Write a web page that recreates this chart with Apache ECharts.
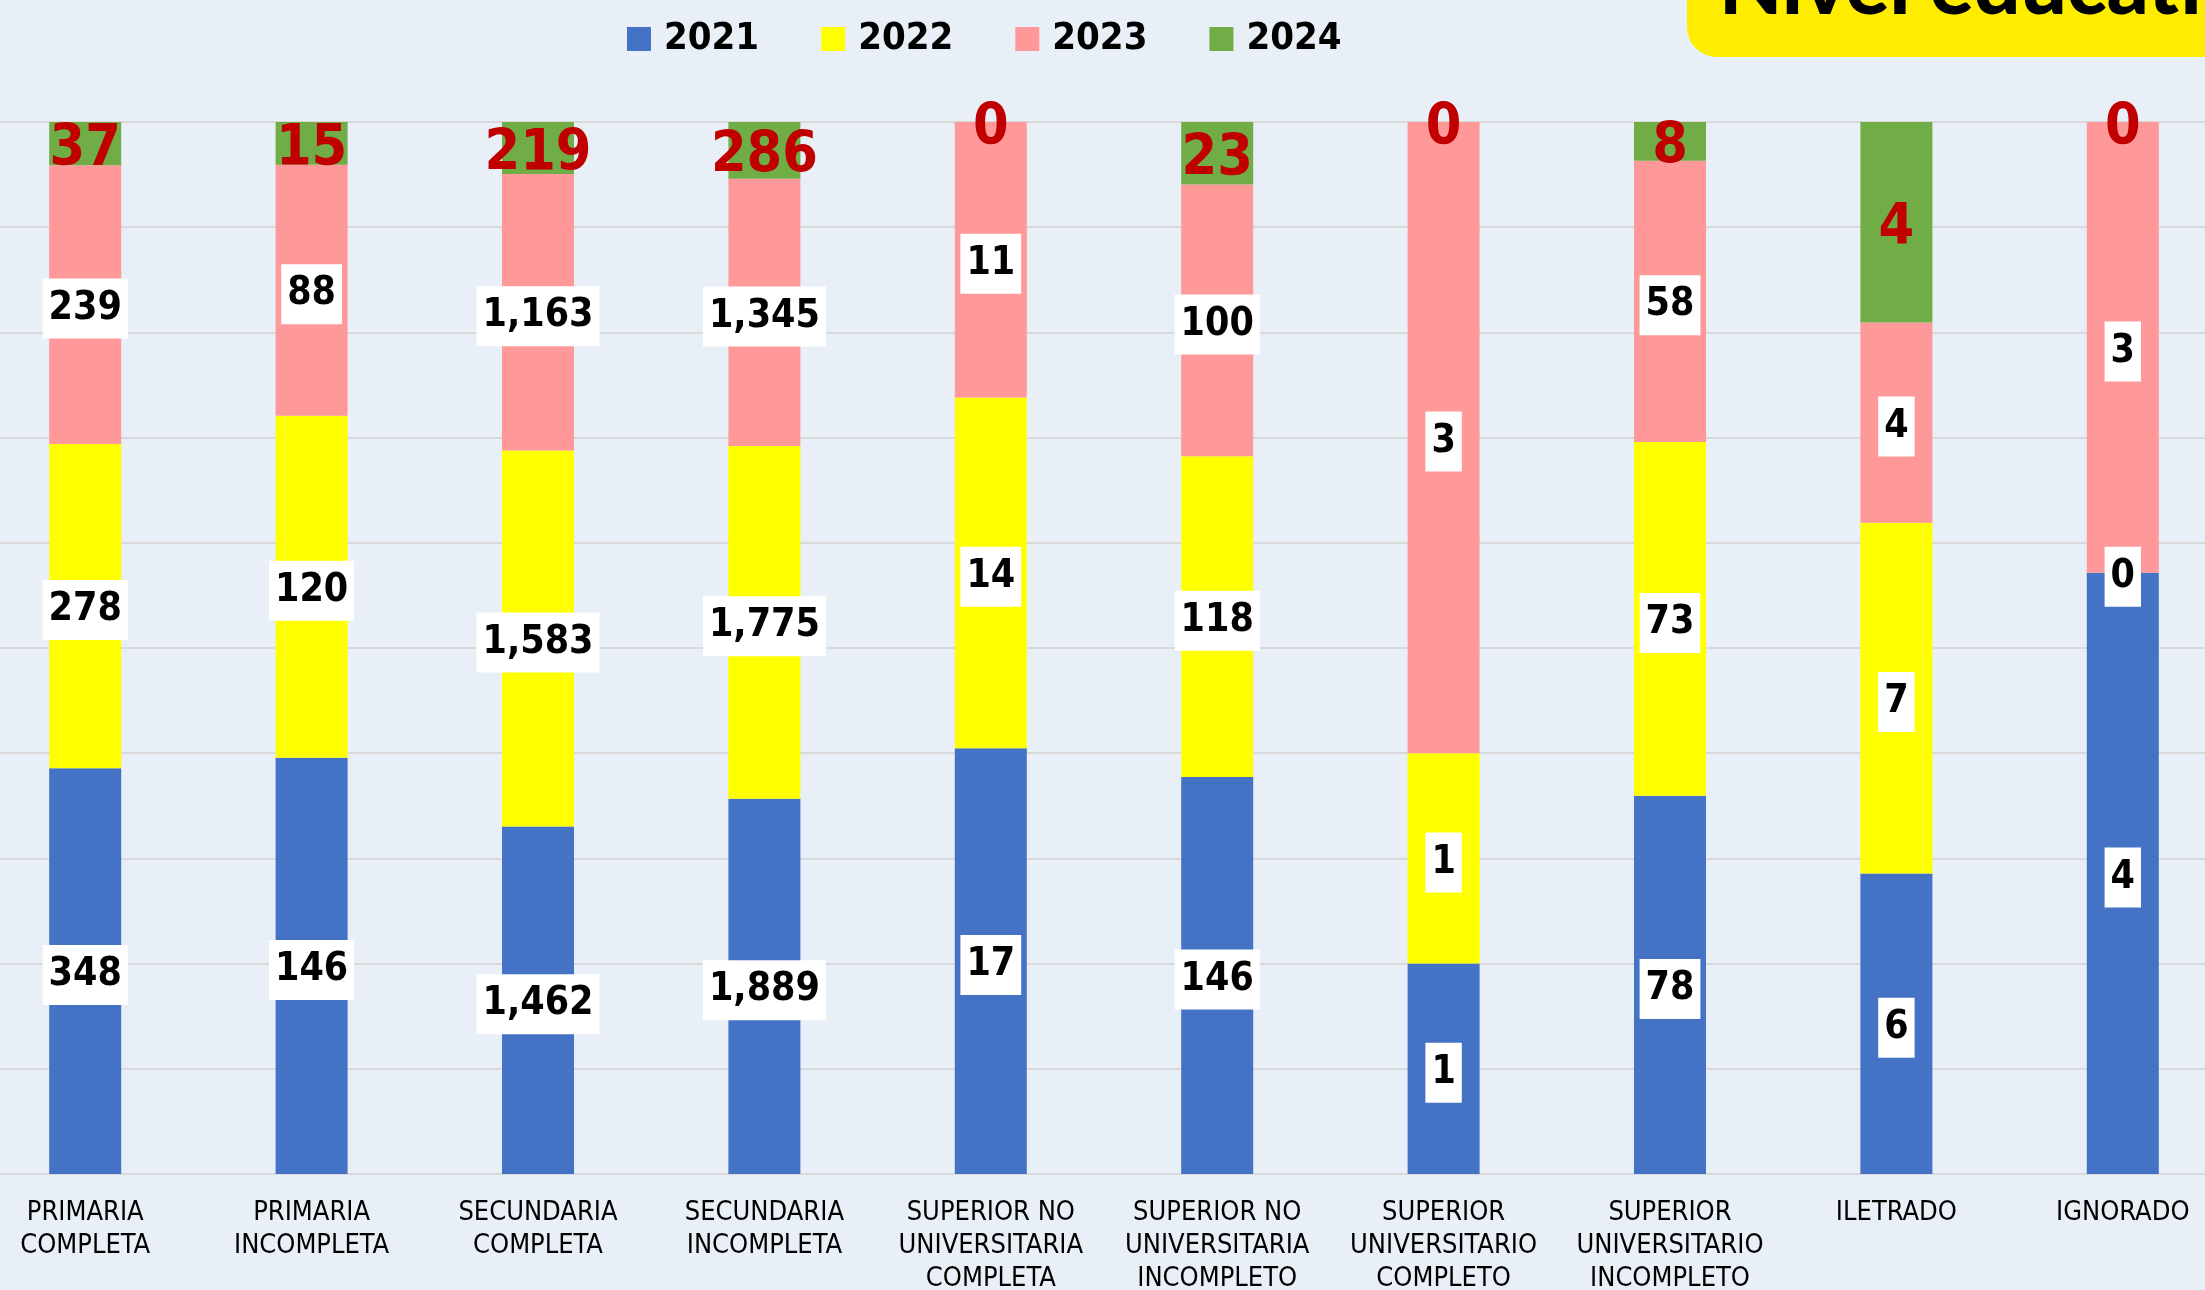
<!DOCTYPE html>
<html>
<head>
<meta charset="utf-8">
<script src="https://cdn.jsdelivr.net/npm/echarts@6/dist/echarts.min.js"></script>
<style>
html, body { margin: 0; padding: 0; background: #E9EFF7; }
#main { width: 2205px; height: 1290px; }
</style>
</head>
<body>
<div id="main"></div>
<script>
// niveles educativos
var categorias = ['PRIMARIA\nCOMPLETA', 'PRIMARIA\nINCOMPLETA', 'SECUNDARIA\nCOMPLETA', 'SECUNDARIA\nINCOMPLETA',
  'SUPERIOR NO\nUNIVERSITARIA\nCOMPLETA', 'SUPERIOR NO\nUNIVERSITARIA\nINCOMPLETO', 'SUPERIOR\nUNIVERSITARIO\nCOMPLETO',
  'SUPERIOR\nUNIVERSITARIO\nINCOMPLETO', 'ILETRADO', 'IGNORADO'];
var anios = ['2021', '2022', '2023', '2024'];
var v2021 = [348, 146, 1462, 1889, 17, 146, 1, 78, 6, 4];
var v2022 = [278, 120, 1583, 1775, 14, 118, 1, 73, 7, 0];
var v2023 = [239, 88, 1163, 1345, 11, 100, 3, 58, 4, 3];
var v2024 = [37, 15, 219, 286, 0, 23, 0, 8, 4, 0];
var valores = [v2021, v2022, v2023, v2024];
var colores = ['#4472C4', '#FFFF00', '#FF9999', '#70AD47'];

var fuente = "'DejaVu Sans Condensed', 'DejaVu Sans', sans-serif";

var totales = categorias.map(function (c, i) {
  return v2021[i] + v2022[i] + v2023[i] + v2024[i];
});

function porcentaje(arr) {
  return arr.map(function (v, i) { return v / totales[i] * 100; });
}

barraApilada('main');

//barras apiladas al 100%
function barraApilada(id) {
  var chart = echarts.init(document.getElementById(id));
  var series = anios.map(function (anio, k) {
    var ultima = k === anios.length - 1;
    return {
      name: anio,
      type: 'bar',
      stack: 'total',
      barWidth: 72,
      itemStyle: { color: colores[k] },
      data: porcentaje(valores[k]),
      label: ultima ? {
        show: true,
        position: 'inside',
        offset: [0, 7],
        color: '#C00000',
        fontFamily: fuente,
        fontWeight: 'bold',
        fontSize: 57,
        formatter: function (p) { return valores[k][p.dataIndex].toLocaleString('en-US'); }
      } : {
        show: true,
        position: 'inside',
        offset: [0, 4],
        color: '#000',
        fontFamily: fuente,
        fontWeight: 'bold',
        fontSize: 39,
        lineHeight: 46,
        backgroundColor: '#fff',
        padding: [7, 6],
        formatter: function (p) { return valores[k][p.dataIndex].toLocaleString('en-US'); }
      }
    };
  });

  var option = {
    backgroundColor: '#E9EFF7',
    animation: false,
    legend: {
      data: anios,
      left: 627,
      top: 20,
      padding: 0,
      itemWidth: 24,
      itemHeight: 24,
      itemGap: 62,
      icon: 'rect',
      textStyle: {
        fontFamily: fuente,
        fontWeight: 'bold',
        fontSize: 38,
        color: '#000',
        padding: [0, 0, 0, 8]
      }
    },
    grid: { left: -28, right: -31, top: 122, bottom: 116, outerBoundsMode: 'none' },
    xAxis: {
      type: 'category',
      data: categorias,
      axisTick: { show: false },
      axisLine: { lineStyle: { color: '#D9D9D9', width: 2 } },
      axisLabel: {
        interval: 0,
        margin: 22,
        color: '#000',
        fontFamily: fuente,
        fontSize: 27,
        lineHeight: 33
      }
    },
    yAxis: {
      type: 'value',
      min: 0,
      max: 100,
      interval: 10,
      axisLabel: { show: false },
      axisLine: { show: false },
      splitLine: { lineStyle: { color: '#D9D9D9', width: 2 } }
    },
    graphic: [
      {
        type: 'rect',
        shape: { x: 1687, y: -83, width: 600, height: 140, r: 30 },
        style: { fill: '#FFED00' },
        z: 10
      },
      {
        type: 'text',
        x: 1719,
        y: -12,
        style: {
          text: 'Nivel educativo',
          font: '900 82px Lato, sans-serif',
          fill: '#000',
          verticalAlign: 'middle'
        },
        z: 11
      }
    ],
    series: series
  };
  chart.setOption(option);
}
</script>
</body>
</html>
